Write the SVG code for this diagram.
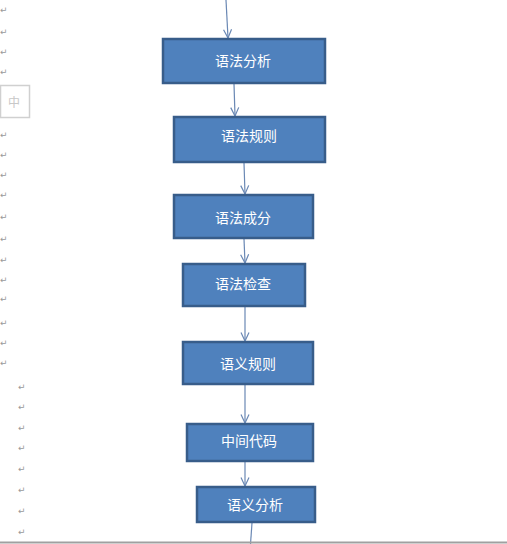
<svg xmlns="http://www.w3.org/2000/svg" width="507" height="544" viewBox="0 0 507 544">
<defs>
<style>
.box{fill:#4F81BD;stroke:#385D8A;stroke-width:2.5}
.lbl{fill:#ffffff;font-family:"Noto Sans CJK SC","Noto Sans",sans-serif;font-size:14px;text-anchor:middle;dominant-baseline:central}
.pm{fill:#9a9a9a;font-family:"DejaVu Sans",sans-serif;font-size:9px}
.conn{stroke:#6A88B4;stroke-width:1.2;fill:none;marker-end:url(#ah)}
.plain{stroke:#6A88B4;stroke-width:1.2;fill:none}
</style>
<marker id="ah" viewBox="0 0 10 10" refX="9.5" refY="5" markerWidth="10" markerHeight="10" markerUnits="userSpaceOnUse" orient="auto">
<path d="M1,1 L9.5,5 L1,9" fill="none" stroke="#6A88B4" stroke-width="1.2"/>
</marker>
</defs>
<rect width="507" height="544" fill="#ffffff"/>
<g id="marks">
<text class="pm" x="0" y="13">↵</text>
<text class="pm" x="0" y="35">↵</text>
<text class="pm" x="0" y="55">↵</text>
<text class="pm" x="0" y="75">↵</text>
<text class="pm" x="0" y="118">↵</text>
<text class="pm" x="0" y="138">↵</text>
<text class="pm" x="0" y="158">↵</text>
<text class="pm" x="0" y="178">↵</text>
<text class="pm" x="0" y="198">↵</text>
<text class="pm" x="0" y="220">↵</text>
<text class="pm" x="0" y="242">↵</text>
<text class="pm" x="0" y="263">↵</text>
<text class="pm" x="0" y="283">↵</text>
<text class="pm" x="0" y="302">↵</text>
<text class="pm" x="0" y="326">↵</text>
<text class="pm" x="0" y="346">↵</text>
<text class="pm" x="0" y="366">↵</text>
<text class="pm" x="18" y="390">↵</text>
<text class="pm" x="18" y="410">↵</text>
<text class="pm" x="18" y="431">↵</text>
<text class="pm" x="18" y="451">↵</text>
<text class="pm" x="18" y="472">↵</text>
<text class="pm" x="18" y="493">↵</text>
<text class="pm" x="18" y="514">↵</text>
<text class="pm" x="18" y="535">↵</text>
</g>
<g id="ime">
<rect x="0.5" y="85.5" width="29" height="32" fill="#ffffff" stroke="#d0d0d0" stroke-width="1.5"/>
<text x="14" y="101" font-family="Noto Sans CJK SC,sans-serif" font-size="12" fill="#c8c8c8" text-anchor="middle" dominant-baseline="central">中</text>
</g>
<g id="connectors">
<line class="conn" x1="226" y1="0" x2="228" y2="38"/>
<line class="conn" x1="234" y1="84" x2="235" y2="116"/>
<line class="conn" x1="244" y1="163" x2="245" y2="194"/>
<line class="conn" x1="244" y1="239" x2="245" y2="263"/>
<line class="conn" x1="245" y1="307" x2="245" y2="341"/>
<line class="conn" x1="245" y1="385" x2="245" y2="423"/>
<line class="conn" x1="245" y1="462" x2="245" y2="486"/>
<line class="plain" x1="252" y1="523" x2="250.5" y2="544"/>
</g>
<g id="n1"><rect class="box" x="163" y="39" width="162" height="44"/><text class="lbl" x="243" y="60">语法分析</text></g>
<g id="n2"><rect class="box" x="174" y="117" width="151" height="45"/><text class="lbl" x="249" y="135">语法规则</text></g>
<g id="n3"><rect class="box" x="174" y="195" width="139" height="43"/><text class="lbl" x="243" y="217">语法成分</text></g>
<g id="n4"><rect class="box" x="183" y="264" width="122" height="42"/><text class="lbl" x="243" y="283">语法检查</text></g>
<g id="n5"><rect class="box" x="183" y="342" width="130" height="42"/><text class="lbl" x="248" y="363">语义规则</text></g>
<g id="n6"><rect class="box" x="187" y="424" width="126" height="37"/><text class="lbl" x="249" y="440">中间代码</text></g>
<g id="n7"><rect class="box" x="197" y="487" width="118" height="35"/><text class="lbl" x="255" y="504">语义分析</text></g>
<line x1="0" y1="542.5" x2="507" y2="542.5" stroke="#a0a0a0" stroke-width="2"/>
</svg>
